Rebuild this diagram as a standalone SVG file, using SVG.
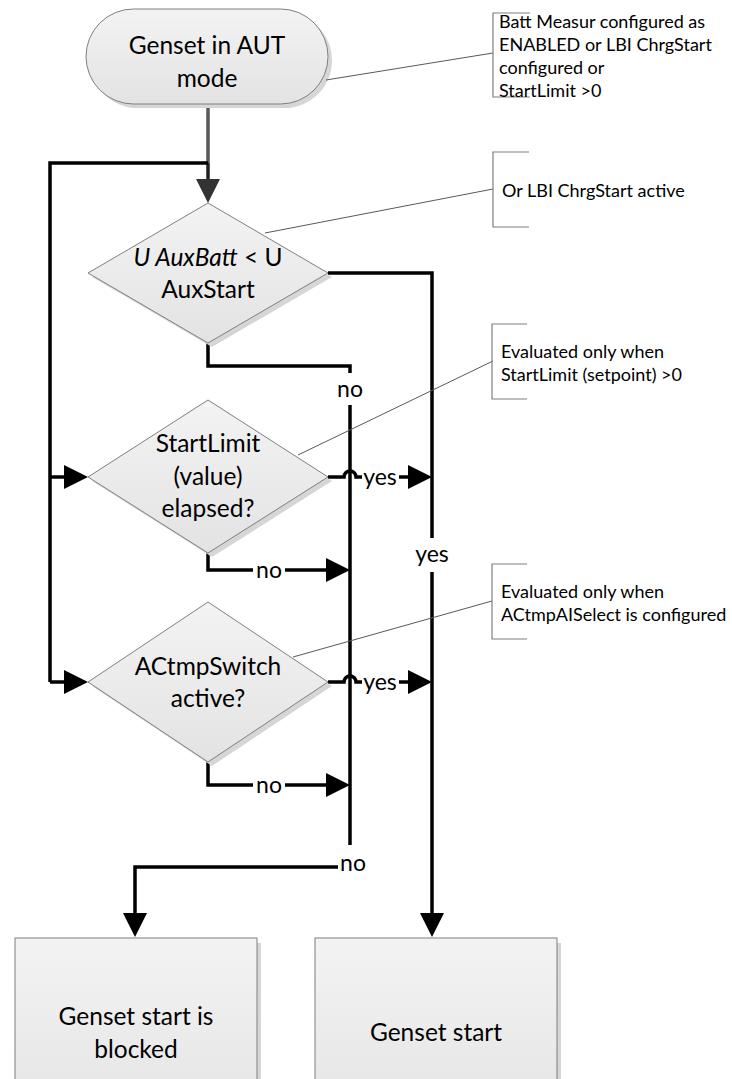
<svg xmlns="http://www.w3.org/2000/svg" width="732" height="1079" viewBox="0 0 732 1079">
<style>
.shape{fill:url(#g);stroke:#7f7f7f;stroke-width:1}
.shadow{fill:#d6d6d6}
.t{font-family:Lato,"Liberation Sans",sans-serif;font-size:24.5px;fill:#000;text-anchor:middle}
.lbl{font-family:Lato,"Liberation Sans",sans-serif;font-size:23px;fill:#000;text-anchor:middle}
.note{font-family:Lato,"Liberation Sans",sans-serif;font-size:18px;fill:#000}
.br{fill:none;stroke:#7f7f7f;stroke-width:1.2}
.lead{fill:none;stroke:#595959;stroke-width:1}
.c{fill:none;stroke:#000;stroke-width:3.5}
.ca{fill:none;stroke:#000;stroke-width:3.5;marker-end:url(#ah)}
</style>
<defs>
<linearGradient id="g" x1="0" y1="0" x2="0" y2="1">
<stop offset="0" stop-color="#f3f3f3"/>
<stop offset="1" stop-color="#e3e3e3"/>
</linearGradient>
<marker id="ah" viewBox="0 0 24 24" refX="4" refY="12" markerWidth="24" markerHeight="24" markerUnits="userSpaceOnUse" orient="auto">
<path d="M0,0 L24,12 L0,24 z" fill="#000"/>
</marker>
<marker id="ahg" viewBox="0 0 24 24" refX="4" refY="12" markerWidth="24" markerHeight="24" markerUnits="userSpaceOnUse" orient="auto">
<path d="M0,0 L24,12 L0,24 z" fill="#333"/>
</marker>
</defs>

<g id="connectors">
<path d="M208,104 V163" fill="none" stroke="#595959" stroke-width="3.5"/>
<path d="M208,163 V183" fill="none" stroke="#222" stroke-width="3.5" marker-end="url(#ahg)"/>
<path class="c" d="M208,163 H50 V682"/>
<path class="ca" d="M50,477 H68"/>
<path class="ca" d="M50,682 H68"/>
<path class="c" d="M328,273 H432 V538"/>
<path class="ca" d="M432,572 V917"/>
<path class="c" d="M208,343 V366 H350 V373"/>
<path class="c" d="M350,405 V845"/>
<path class="ca" d="M338,867 H135 V917"/>
<path class="c" d="M328,477 H344 A6,6 0 0 1 356,477 H362"/>
<path class="ca" d="M399,477 H412"/>
<path class="c" d="M208,553 V570 H253"/>
<path class="ca" d="M285,570 H330"/>
<path class="c" d="M328,682 H344 A6,6 0 0 1 356,682 H362"/>
<path class="ca" d="M399,682 H412"/>
<path class="c" d="M208,762 V785 H253"/>
<path class="ca" d="M285,785 H330"/>
<text class="lbl" x="350" y="397">no</text>
<text class="lbl" x="380" y="485">yes</text>
<text class="lbl" x="432" y="562">yes</text>
<text class="lbl" x="269" y="578">no</text>
<text class="lbl" x="380" y="690">yes</text>
<text class="lbl" x="269" y="793">no</text>
<text class="lbl" x="353" y="871">no</text>
</g>

<g id="start">
<rect class="shadow" x="90" y="13" width="242" height="95" rx="47.5"/>
<rect class="shape" x="86" y="9" width="242" height="95" rx="47.5"/>
<text class="t" x="207" y="54">Genset in AUT</text>
<text class="t" x="207" y="87">mode</text>
</g>

<g id="d1">
<polygon class="shadow" points="212,207 332,277 212,347 92,277"/>
<polygon class="shape" points="208,203 328,273 208,343 88,273"/>
<text class="t" x="208" y="266"><tspan font-style="italic">U AuxBatt</tspan> &lt; U</text>
<text class="t" x="208" y="298">AuxStart</text>
</g>

<g id="d2">
<polygon class="shadow" points="212,404 332,481 212,557 92,481"/>
<polygon class="shape" points="208,400 328,477 208,553 88,477"/>
<text class="t" x="208" y="452">StartLimit</text>
<text class="t" x="208" y="485">(value)</text>
<text class="t" x="208" y="517">elapsed?</text>
</g>

<g id="d3">
<polygon class="shadow" points="212,606 332,686 212,766 92,686"/>
<polygon class="shape" points="208,602 328,682 208,762 88,682"/>
<text class="t" x="208" y="675">ACtmpSwitch</text>
<text class="t" x="208" y="707">active?</text>
</g>

<g id="blocked">
<rect class="shadow" x="19" y="943" width="242" height="200"/>
<rect class="shape" x="15" y="938" width="242" height="200"/>
<text class="t" x="136" y="1025">Genset start is</text>
<text class="t" x="136" y="1058">blocked</text>
</g>

<g id="genstart">
<rect class="shadow" x="319" y="943" width="242" height="200"/>
<rect class="shape" x="315" y="938" width="242" height="200"/>
<text class="t" x="436" y="1041">Genset start</text>
</g>

<g id="note1">
<path class="lead" d="M326,80 L493,53"/>
<path class="br" d="M530,13 H493 V97 H530"/>
<text class="note" x="499" y="28">Batt Measur configured as</text>
<text class="note" x="499" y="51">ENABLED or LBI ChrgStart</text>
<text class="note" x="499" y="74">configured or</text>
<text class="note" x="499" y="97">StartLimit &gt;0</text>
</g>

<g id="note2">
<path class="lead" d="M265,233 L493,189"/>
<path class="br" d="M529,152 H493 V227 H529"/>
<text class="note" x="502" y="197">Or LBI ChrgStart active</text>
</g>

<g id="note3">
<path class="lead" d="M298,455 L493,361"/>
<path class="br" d="M527,324 H492 V399 H527"/>
<text class="note" x="501" y="358">Evaluated only when</text>
<text class="note" x="501" y="381">StartLimit (setpoint) &gt;0</text>
</g>

<g id="note4">
<path class="lead" d="M293,657 L492,601"/>
<path class="br" d="M527,564 H492 V639 H527"/>
<text class="note" x="501" y="598">Evaluated only when</text>
<text class="note" x="501" y="621">ACtmpAISelect is configured</text>
</g>
</svg>
